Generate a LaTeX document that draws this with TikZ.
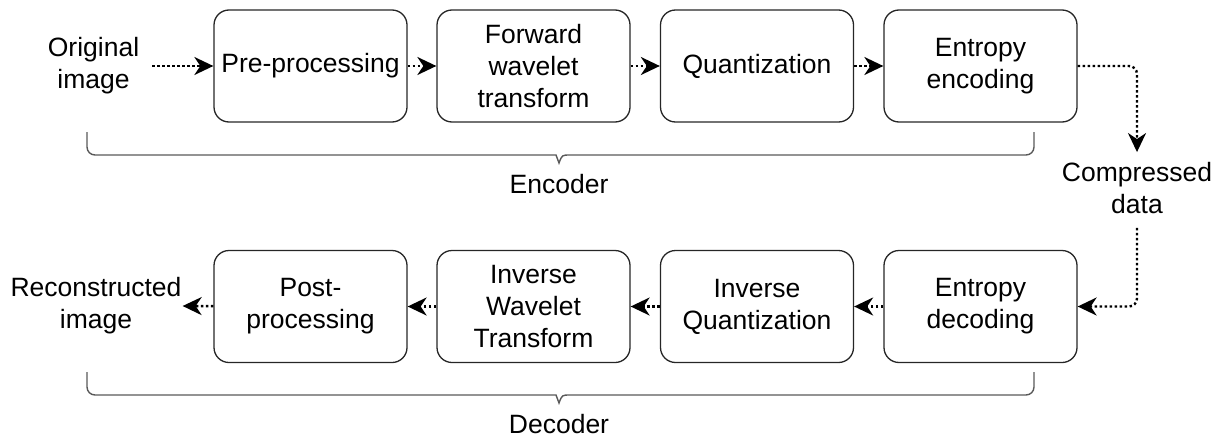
\documentclass[tikz,border=0pt]{standalone}
\usepackage{fontspec}
\setmainfont{Liberation Sans}
\usetikzlibrary{arrows.meta}

\tikzset{
  stage/.style={draw=black!85, line width=1.3pt, rounded corners=15pt,
    minimum width=193pt, minimum height=112pt, align=center,
    font=\fontsize{26.5}{32}\selectfont},
  txt/.style={inner sep=0pt, align=center, font=\fontsize{26.5}{32}\selectfont},
  flow/.style={line width=2.4pt, dash pattern=on 2.4pt off 2.6pt, rounded corners=8pt,
    -{Stealth[length=19pt,width=18pt,inset=6pt]}},
  bracket/.style={draw=black!65, line width=1.4pt}
}

\begin{document}
\begin{tikzpicture}[x=1pt,y=-1pt]
  \useasboundingbox (0,0) rectangle (1228,439);
  % encoder row
  \node[stage] (pre)   at (310.5,66) {Pre-processing};
  \node[stage] (fwt)   at (533.5,66) {Forward\\wavelet\\transform};
  \node[stage] (quant) at (757,66)   {Quantization};
  \node[stage] (enc)   at (980.5,66) {Entropy\\encoding};
  % decoder row
  \node[stage] (dec)    at (980.5,306.5) {Entropy\\decoding};
  \node[stage] (iquant) at (757,306.5)   {Inverse\\Quantization};
  \node[stage] (iwt)    at (533.5,306.5) {Inverse\\Wavelet\\Transform};
  \node[stage] (post)   at (310.5,306.5) {Post-\\processing};
  % loose text
  \node[txt] (orig)  at (93.5,66)  {Original\\image};
  \node[txt] (comp)  at (1137,188) {Compressed\\data};
  \node[txt] (recon) at (96,306)   {Reconstructed\\image};
  \node[txt] (encl)  at (559,184)  {Encoder};
  \node[txt] (decl)  at (559,424)  {Decoder};
  % arrows
  \draw[flow] ([xshift=13pt]orig.east) -- (pre);
  \draw[flow] (pre) -- (fwt);
  \draw[flow] (fwt) -- (quant);
  \draw[flow] (quant) -- (enc);
  \draw[flow] (enc) -| ([yshift=10pt]comp.north);
  \draw[flow] ([yshift=-14pt]comp.south) |- (dec);
  \draw[flow] (dec) -- (iquant);
  \draw[flow] (iquant) -- (iwt);
  \draw[flow] (iwt) -- (post);
  \draw[flow] (post) -- ([xshift=1pt]recon.east);
  % two brackets
  \draw[bracket, rounded corners=8pt] (87,132) |- (548,155)
    [sharp corners] .. controls (556,155) .. (559,163)
    .. controls (562,155) .. (570,155)
    [rounded corners=8pt] -| (1034,132);
  \draw[bracket, rounded corners=8pt] (87,372) |- (548,395)
    [sharp corners] .. controls (556,395) .. (559,403)
    .. controls (562,395) .. (570,395)
    [rounded corners=8pt] -| (1034,372);
\end{tikzpicture}
\end{document}
